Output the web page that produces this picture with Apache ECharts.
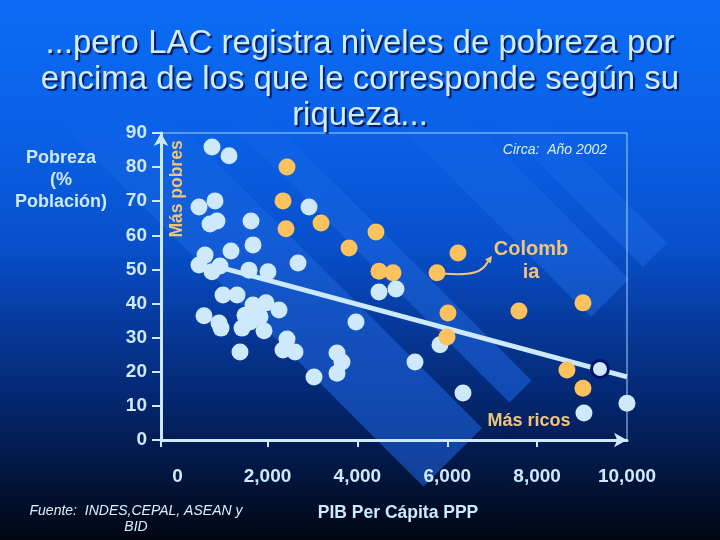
<!DOCTYPE html>
<html><head><meta charset="utf-8">
<script src="https://cdn.jsdelivr.net/npm/echarts@6/dist/echarts.min.js"></script>
<style>
html,body{margin:0;padding:0;}
#c{width:720px;height:540px;background:linear-gradient(to bottom,#0b6cf5 0%,#0a60e6 25%,#0850cc 45%,#063a9c 60%,#042770 74%,#021845 86%,#000612 100%);}
</style>
</head><body><div id="c"></div>
<script>
// ---- data ----
const xTickLabels = [0, 2000, 4000, 6000, 8000, 10000];
const yTickLabels = [0, 10, 20, 30, 40, 50, 60, 70, 80, 90];
// other countries (light blue)
const othersX = [765,1144,476,832,721,877,1633,1678,1188,610,476,765,943,1589,2011,2679,2924,1010,1322,587,921,966,1678,1967,2256,1500,1433,1833,1922,1611,1388,2434,2345,2612,3547,3658,3547,3035,3969,4481,4859,5282,5838,6350,9042,9999];
const othersY = [85.9,83.3,68.3,70.1,63.3,64.2,64.2,57.2,55.4,54.2,51.3,49.3,51.0,49.8,49.3,51.9,68.3,42.5,42.5,36.4,34.3,32.8,39.6,40.2,38.1,36.6,32.8,36.1,32.0,34.6,25.8,29.6,26.4,25.8,25.5,22.9,19.6,18.5,34.6,43.4,44.3,22.9,27.9,13.8,7.9,10.8];
// LAC countries (orange)
const lacX = [2434,2345,2412,3191,3814,4414,4481,4793,5772,6239,6016,7596,9020,5994,8664,9020];
const lacY = [80.0,70.1,61.9,63.6,56.3,61.0,49.5,49.0,49.0,54.8,37.2,37.8,40.2,30.2,20.5,15.2];
const colombiaIndex = 8;
// highlighted point (ringed)
const ringX = [9398];
const ringY = [20.8];
// trend line
const trendX = [1010, 10000];
const trendY = [50.4, 18.5];

// ---- chart ----
const FONT = '"Liberation Sans", Arial, Helvetica, sans-serif';
const LIGHT = '#cde9fb';
const ORANGE = '#fbc25e';
const TAN = '#f0c47a';
const pairs = (xs, ys) => xs.map((x, i) => [x, ys[i]]);
const fmt = v => String(v).replace(/\B(?=(\d{3})+(?!\d))/g, ',');

const chart = echarts.init(document.getElementById('c'), null, {renderer: 'canvas'});
chart.setOption({
  animation: false,
  backgroundColor: 'transparent',
  grid: {left: 161, right: 93, top: 133, bottom: 100, show: true, borderColor: '#a6d2fb', borderWidth: 1,
         backgroundColor: 'transparent', containLabel: false, outerBoundsMode: 'none'},
  xAxis: {
    type: 'value', min: -370, max: 10000,
    axisLine: {show: true, onZero: false, lineStyle: {color: LIGHT, width: 3}, symbol: ['none', 'arrow'], symbolSize: [11, 13]},
    axisTick: {show: true, length: 7, lineStyle: {color: LIGHT, width: 2}, customValues: [-370, 2000, 4000, 6000, 8000]},
    axisLabel: {show: true, customValues: xTickLabels, formatter: fmt, color: LIGHT, fontFamily: FONT, fontWeight: 'bold', fontSize: 19, margin: 27},
    splitLine: {show: false}
  },
  yAxis: {
    type: 'value', min: 0, max: 90, interval: 10,
    axisLine: {show: true, onZero: false, lineStyle: {color: LIGHT, width: 3}, symbol: ['none', 'arrow'], symbolSize: [11, 13]},
    axisTick: {show: true, length: 9, lineStyle: {color: LIGHT, width: 2}, customValues: yTickLabels},
    axisLabel: {show: true, customValues: yTickLabels, color: LIGHT, fontFamily: FONT, fontWeight: 'bold', fontSize: 19, margin: 14},
    splitLine: {show: false}
  },
  series: [
    {type: 'line', data: pairs(trendX, trendY), symbol: 'none', lineStyle: {color: LIGHT, width: 5}, z: 2, silent: true},
    {type: 'scatter', data: pairs(othersX, othersY), symbol: 'circle', symbolSize: 17, itemStyle: {color: LIGHT, opacity: 1}, z: 3},
    {type: 'scatter', data: pairs(lacX, lacY), symbol: 'circle', symbolSize: 17, itemStyle: {color: ORANGE, opacity: 1}, z: 4},
    {type: 'scatter', data: pairs(ringX, ringY), symbol: 'circle', symbolSize: 17, itemStyle: {color: LIGHT, opacity: 1, borderColor: '#06106e', borderWidth: 3}, z: 5}
  ]
});

// decorative diagonal bands
function band(c1, c2, e, yt) {
  return [[c1 + yt, yt], [c2 + yt, yt], [(c2 + e) / 2, (e - c2) / 2], [(c1 + e) / 2, (e - c1) / 2]];
}
const bandFill = new echarts.graphic.LinearGradient(0, 0, 0, 540, [
  {offset: 0, color: 'rgba(70,150,255,0.0)'},
  {offset: 0.2, color: 'rgba(70,150,255,0.0)'},
  {offset: 0.3, color: 'rgba(70,150,255,0.10)'},
  {offset: 0.5, color: 'rgba(50,130,255,0.28)'},
  {offset: 0.72, color: 'rgba(35,115,255,0.46)'},
  {offset: 1, color: 'rgba(35,115,255,0.5)'}
], true);
const bands = [[376, 424, 910], [274, 350, 908], [107, 151, 912], [-63, 54, 910]].map(b => ({
  type: 'polygon', z: -1, silent: true, shape: {points: band(b[0], b[1], b[2], 90)}, style: {fill: bandFill}
}));

const p = chart.convertToPixel({seriesIndex: 2}, [lacX[colombiaIndex], lacY[colombiaIndex]]);
const tip = [p[0] + 55, p[1] - 17];
const d = [0.58, -0.81], n = [0.81, 0.58];
const base = [tip[0] - 7 * d[0], tip[1] - 7 * d[1]];

const txt = (text, x, y, o) => Object.assign({type: 'text', z: 20, silent: true, x: x, y: y,
  style: Object.assign({text: text, fill: LIGHT, align: 'center', verticalAlign: 'middle',
    fontFamily: FONT, fontSize: 18, fontWeight: 'bold'}, o && o.style)}, o && o.el);

chart.setOption({
  graphic: bands.concat([
    txt('...pero LAC registra niveles de pobreza por\nencima de los que le corresponde según su\nriqueza...', 360, 80,
      {style: {fontSize: 33, fontWeight: 'normal', lineHeight: 36, fill: '#d2ecff',
        textShadowColor: 'rgba(0,10,60,0.85)', textShadowOffsetX: 2, textShadowOffsetY: 2, textShadowBlur: 1}}),
    txt('Pobreza\n(%\nPoblación)', 61, 180, {style: {lineHeight: 22}}),
    txt('Más pobres', 177, 189, {style: {fill: TAN, fontSize: 17.5}, el: {rotation: Math.PI / 2}}),
    txt('Circa:  Año 2002', 555, 150, {style: {fontSize: 14, fontWeight: 'normal', fontStyle: 'italic', fill: '#dcefff'}}),
    txt('Colomb\nia', 531, 261, {style: {fill: TAN, fontSize: 20, lineHeight: 23}}),
    txt('Más ricos', 529, 421, {style: {fill: TAN, fontSize: 18}}),
    txt('PIB Per Cápita PPP', 398, 513, {style: {fontSize: 17.5}}),
    txt('Fuente:  INDES,CEPAL, ASEAN y\nBID', 136, 519, {style: {fontSize: 14, fontWeight: 'normal', fontStyle: 'italic', lineHeight: 16, fill: '#dcefff'}}),
    {type: 'bezierCurve', z: 20, silent: true,
      shape: {x1: p[0] + 8, y1: p[1] + 1, cpx1: p[0] + 36, cpy1: p[1] + 3, cpx2: p[0] + 46, cpy2: p[1] - 1, x2: base[0], y2: base[1]},
      style: {stroke: TAN, lineWidth: 2, fill: null}},
    {type: 'polygon', z: 20, silent: true,
      shape: {points: [tip, [base[0] + 3.5 * n[0], base[1] + 3.5 * n[1]], [base[0] - 3.5 * n[0], base[1] - 3.5 * n[1]]]},
      style: {fill: TAN}}
  ])
});
</script>
</body></html>
